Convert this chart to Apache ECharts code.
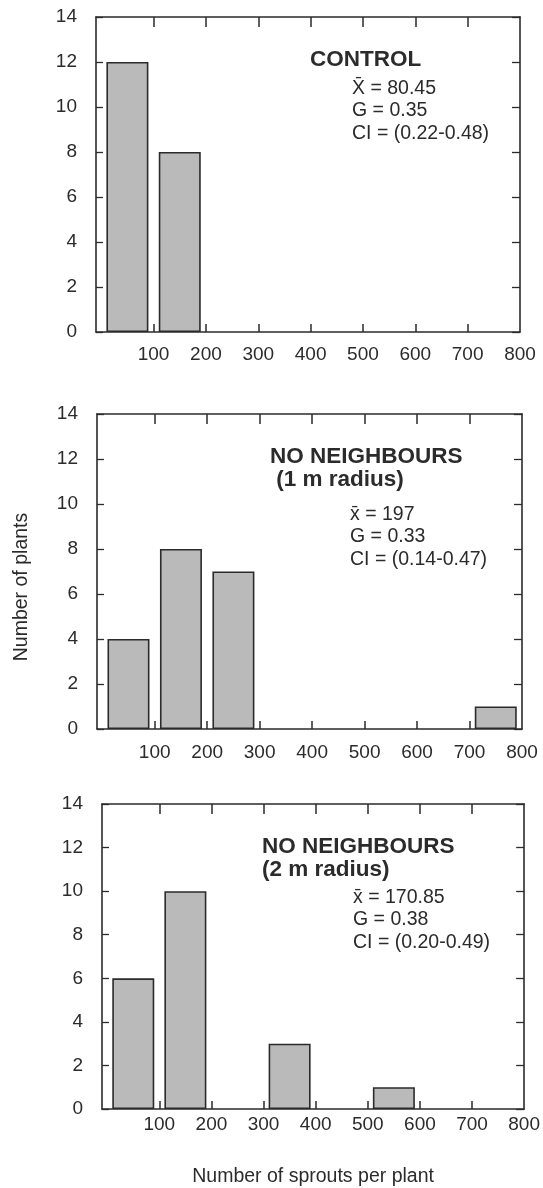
<!DOCTYPE html>
<html>
<head>
<meta charset="utf-8">
<script src="https://cdn.jsdelivr.net/npm/echarts@6/dist/echarts.min.js"></script>
<style>
  html, body { margin: 0; padding: 0; background: #fff; }
  #chart { width: 543px; height: 1188px; }
</style>
</head>
<body>
<div id="chart"></div>
<script>
// bins of 100 sprouts, bars drawn at the bin centre
const binCenters = [50, 150, 250, 350, 450, 550, 650, 750];
const xTicks = [100, 200, 300, 400, 500, 600, 700, 800];
const xInnerTicks = [100, 200, 300, 400, 500, 600, 700];
const yTicks = [0, 2, 4, 6, 8, 10, 12, 14];

const controlCounts = [12, 8, 0, 0, 0, 0, 0, 0];
const noNb1mCounts = [4, 8, 7, 0, 0, 0, 0, 1];
const noNb2mCounts = [6, 10, 0, 3, 0, 1, 0, 0];

const panelTitles = [['CONTROL'], ['NO NEIGHBOURS', ' (1 m radius)'], ['NO NEIGHBOURS', '(2 m radius)']];
const panelStats = [
  ['X\u0304 = 80.45', 'G = 0.35', 'CI = (0.22-0.48)'],
  ['x\u0304 = 197', 'G = 0.33', 'CI = (0.14-0.47)'],
  ['x\u0304 = 170.85', 'G = 0.38', 'CI = (0.20-0.49)']
];

const FONT = 'Liberation Sans, Arial, Helvetica, sans-serif';
const INK = '#2b2b2b';

// frame is a little wider than the 0-800 range, so x starts at -10
const grids = [
  { left: 96, right: 23, top: 17, height: 315 },
  { left: 97, right: 21, top: 414, height: 315 },
  { left: 102, right: 16, top: 804, height: 313 }
];
const labelMargins = [13, 14, 6];

const chart = echarts.init(document.getElementById('chart'));

const xAxes = [], yAxes = [], series = [];
[controlCounts, noNb1mCounts, noNb2mCounts].forEach((counts, i) => {
  const line = { show: true, onZero: false, lineStyle: { color: INK, width: 1.6 } };
  xAxes.push({
    type: 'value', gridIndex: i, min: -10, max: 800, position: 'bottom',
    axisLine: line,
    axisTick: { inside: true, length: 8, customValues: xInnerTicks, lineStyle: { color: INK, width: 1.5 } },
    axisLabel: { margin: labelMargins[i], fontSize: 19, color: INK, fontFamily: FONT, customValues: xTicks },
    splitLine: { show: false },
    name: i === 2 ? 'Number of sprouts per plant' : '',
    nameLocation: 'middle', nameGap: 58,
    nameTextStyle: { fontSize: 19.5, color: INK, fontFamily: FONT }
  });
  xAxes.push({
    type: 'value', gridIndex: i, min: -10, max: 800, position: 'top',
    axisLine: line,
    axisTick: { inside: true, length: 10, customValues: xInnerTicks, lineStyle: { color: INK, width: 1.5 } },
    axisLabel: { show: false }, splitLine: { show: false }
  });
  yAxes.push({
    type: 'value', gridIndex: i, min: 0, max: 14, interval: 2, position: 'left',
    axisLine: line,
    axisTick: { inside: true, length: 7, lineStyle: { color: INK, width: 1.3 } },
    axisLabel: {
      margin: 19, fontSize: 19, color: INK, fontFamily: FONT,
      formatter: v => (yTicks.indexOf(v) >= 0 ? String(v) : '')
    },
    splitLine: { show: false }
  });
  yAxes.push({
    type: 'value', gridIndex: i, min: 0, max: 14, interval: 2, position: 'right',
    axisLine: line,
    axisTick: { inside: true, length: 8, lineStyle: { color: INK, width: 1.3 } },
    axisLabel: { show: false }, splitLine: { show: false }
  });
  series.push({
    type: 'bar',
    xAxisIndex: 2 * i, yAxisIndex: 2 * i,
    barWidth: 42,
    data: binCenters.map((c, k) => [c, counts[k]]).filter(d => d[1] > 0),
    itemStyle: { color: '#bababa', borderColor: INK, borderWidth: 1.6 },
    silent: true
  });
});

const titlePos = [[310, 60], [270, 457], [262, 847]];
const statsPos = [[352, 88], [350, 514], [353, 897]];
const graphic = [{
  type: 'text', x: 22, y: 587, rotation: Math.PI / 2,
  style: {
    text: 'Number of plants', fill: INK, fontFamily: FONT, fontSize: 19.5,
    align: 'center', verticalAlign: 'middle'
  }
}];
panelTitles.forEach((lines, i) => {
  graphic.push({
    type: 'text', x: titlePos[i][0], y: titlePos[i][1] - 12,
    style: {
      text: lines.join('\n'), fill: INK, fontFamily: FONT, fontWeight: 'bold',
      fontSize: 22.5, lineHeight: 23, verticalAlign: 'top'
    }
  });
  graphic.push({
    type: 'text', x: statsPos[i][0], y: statsPos[i][1] - 11,
    style: {
      text: panelStats[i].join('\n'), fill: INK, fontFamily: FONT,
      fontSize: 19.5, lineHeight: 22.5, verticalAlign: 'top'
    }
  });
});

chart.setOption({
  animation: false,
  grid: grids,
  xAxis: xAxes,
  yAxis: yAxes,
  series: series,
  graphic: graphic
});
</script>
</body>
</html>
